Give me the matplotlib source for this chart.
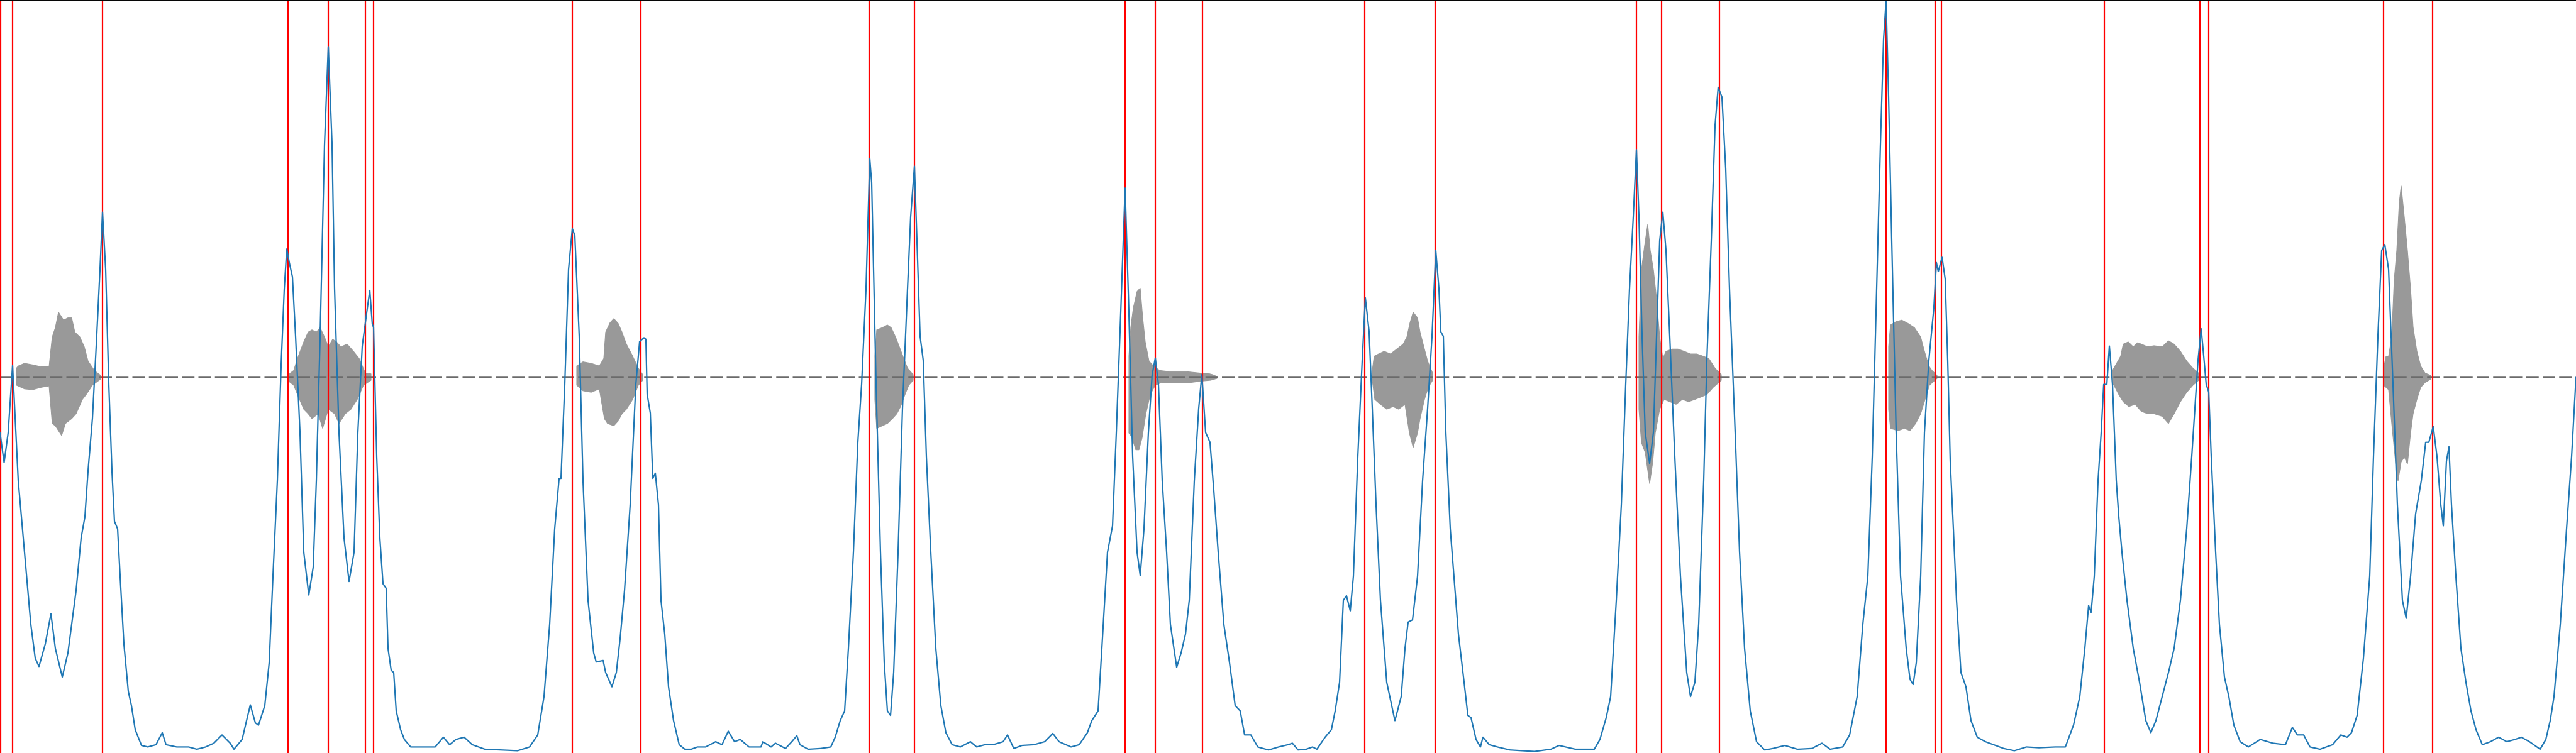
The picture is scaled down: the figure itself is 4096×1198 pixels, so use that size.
"""
Onset detection plot: waveform (gray), onset strength envelope (blue),
detected onsets (red vertical lines).
"""

import numpy as np
import matplotlib
matplotlib.use("Agg")
import matplotlib.pyplot as plt

# ── detected onset positions (frames) ──────────────────────────────────────
ONSET_FRAMES = [1, 20, 163, 458, 522, 581, 594, 910, 1019, 1382, 1454,
                1789, 1837, 1912, 2170, 2282, 2602, 2642, 2734, 2999,
                3077, 3087, 3346, 3498, 3512, 3790, 3868]

# ── onset strength envelope (frame, normalised strength) ───────────────────
ONSET_ENV = [
    (0, 0.426), (6.5, 0.386), (13, 0.426), (20, 0.515), (29, 0.362),
    (39, 0.267), (49, 0.171), (56, 0.126), (62, 0.115), (72, 0.145),
    (81, 0.185), (88, 0.139), (99, 0.101), (108, 0.133), (121, 0.216),
    (129, 0.286), (135, 0.314), (140, 0.375), (147, 0.445), (153, 0.541),
    (159, 0.643), (163, 0.719), (168, 0.643), (173, 0.490), (178, 0.375),
    (182, 0.308), (187, 0.298), (191, 0.235), (197, 0.145), (204, 0.082),
    (209, 0.063), (215, 0.031), (225, 0.010), (235, 0.008), (248, 0.011),
    (258, 0.027), (264, 0.011), (281, 0.008), (300, 0.008), (313, 0.005),
    (327, 0.008), (340, 0.013), (353, 0.024), (366, 0.013), (372, 0.005),
    (385, 0.018), (392, 0.043), (398, 0.064), (406, 0.040), (411, 0.037),
    (421, 0.063), (428, 0.120), (434, 0.235), (441, 0.362), (447, 0.515),
    (452, 0.617), (456, 0.670), (460, 0.652), (465, 0.633), (470, 0.554),
    (477, 0.426), (483, 0.267), (491, 0.210), (498, 0.247), (503, 0.362),
    (509, 0.554), (516, 0.809), (522, 0.939), (528, 0.809), (532, 0.617),
    (539, 0.426), (547, 0.286), (555, 0.228), (563, 0.267), (569, 0.426),
    (576, 0.541), (583, 0.585), (588, 0.615), (592, 0.570), (594, 0.566),
    (599, 0.394), (604, 0.286), (609, 0.225), (614, 0.219), (617, 0.139),
    (622, 0.110), (626, 0.107), (630, 0.056), (637, 0.031), (643, 0.018),
    (653, 0.008), (673, 0.008), (692, 0.008), (705, 0.021), (715, 0.011),
    (725, 0.018), (738, 0.021), (751, 0.011), (771, 0.005), (797, 0.004),
    (823, 0.003), (842, 0.008), (855, 0.024), (865, 0.075), (874, 0.171),
    (882, 0.298), (889, 0.365), (892, 0.365), (898, 0.490), (904, 0.643),
    (910, 0.697), (914, 0.688), (921, 0.554), (927, 0.362), (935, 0.203),
    (944, 0.133), (948, 0.121), (959, 0.123), (963, 0.107), (973, 0.088),
    (980, 0.107), (986, 0.152), (993, 0.216), (1002, 0.330), (1011, 0.490),
    (1017, 0.547), (1024, 0.552), (1027, 0.550), (1029, 0.477), (1034, 0.452),
    (1038, 0.365), (1042, 0.372), (1047, 0.330), (1051, 0.203), (1057, 0.158),
    (1063, 0.088), (1071, 0.043), (1080, 0.011), (1089, 0.005), (1099, 0.005),
    (1109, 0.008), (1122, 0.008), (1138, 0.015), (1148, 0.011), (1158, 0.029),
    (1168, 0.015), (1177, 0.018), (1191, 0.008), (1210, 0.008), (1213, 0.015),
    (1226, 0.008), (1233, 0.013), (1249, 0.006), (1259, 0.015), (1267, 0.023),
    (1272, 0.011), (1285, 0.005), (1305, 0.006), (1321, 0.008), (1328, 0.021),
    (1336, 0.043), (1343, 0.056), (1349, 0.139), (1357, 0.267), (1364, 0.413),
    (1370, 0.490), (1377, 0.617), (1383, 0.790), (1386, 0.758), (1393, 0.490),
    (1400, 0.267), (1406, 0.120), (1411, 0.056), (1416, 0.050), (1421, 0.107),
    (1428, 0.267), (1435, 0.458), (1443, 0.617), (1448, 0.713), (1454, 0.780),
    (1458, 0.681), (1463, 0.554), (1468, 0.522), (1473, 0.394), (1480, 0.267),
    (1488, 0.139), (1496, 0.063), (1504, 0.027), (1514, 0.011), (1527, 0.008),
    (1543, 0.015), (1553, 0.008), (1566, 0.011), (1579, 0.011), (1595, 0.015),
    (1602, 0.024), (1612, 0.006), (1625, 0.010), (1644, 0.011), (1661, 0.015),
    (1674, 0.026), (1684, 0.015), (1703, 0.008), (1716, 0.011), (1729, 0.027),
    (1736, 0.043), (1746, 0.056), (1752, 0.139), (1761, 0.267), (1769, 0.302),
    (1775, 0.426), (1782, 0.585), (1789, 0.751), (1795, 0.585), (1801, 0.394),
    (1808, 0.267), (1813, 0.236), (1819, 0.298), (1826, 0.426), (1832, 0.503),
    (1837, 0.525), (1842, 0.490), (1848, 0.362), (1855, 0.267), (1861, 0.171),
    (1871, 0.114), (1878, 0.133), (1885, 0.158), (1891, 0.203), (1899, 0.362),
    (1906, 0.458), (1911, 0.503), (1917, 0.426), (1924, 0.413), (1930, 0.349),
    (1937, 0.267), (1946, 0.171), (1955, 0.120), (1964, 0.063), (1972, 0.056),
    (1979, 0.024), (1989, 0.024), (2000, 0.008), (2017, 0.004), (2033, 0.008),
    (2048, 0.011), (2055, 0.013), (2064, 0.004), (2077, 0.005), (2087, 0.008),
    (2094, 0.005), (2107, 0.021), (2117, 0.031), (2123, 0.056), (2130, 0.094),
    (2136, 0.203), (2141, 0.209), (2147, 0.189), (2152, 0.235), (2159, 0.394),
    (2166, 0.522), (2171, 0.605), (2177, 0.560), (2182, 0.458), (2188, 0.330),
    (2195, 0.203), (2205, 0.094), (2218, 0.043), (2228, 0.075), (2234, 0.139),
    (2239, 0.174), (2246, 0.177), (2254, 0.235), (2262, 0.362), (2270, 0.458),
    (2277, 0.554), (2283, 0.668), (2288, 0.617), (2291, 0.560), (2295, 0.554),
    (2299, 0.426), (2306, 0.298), (2313, 0.222), (2319, 0.158), (2328, 0.094),
    (2334, 0.050), (2339, 0.047), (2347, 0.018), (2354, 0.008), (2358, 0.021),
    (2368, 0.011), (2381, 0.008), (2401, 0.004), (2440, 0.002), (2466, 0.005),
    (2479, 0.010), (2505, 0.005), (2535, 0.005), (2544, 0.018), (2554, 0.047),
    (2561, 0.075), (2570, 0.203), (2578, 0.330), (2585, 0.490), (2591, 0.617),
    (2597, 0.713), (2602, 0.802), (2606, 0.713), (2611, 0.554), (2616, 0.426),
    (2623, 0.385), (2629, 0.426), (2634, 0.554), (2639, 0.681), (2644, 0.719),
    (2649, 0.668), (2655, 0.554), (2663, 0.394), (2672, 0.235), (2682, 0.107),
    (2688, 0.075), (2695, 0.094), (2701, 0.171), (2709, 0.362), (2714, 0.522),
    (2721, 0.681), (2727, 0.834), (2732, 0.885), (2738, 0.872), (2744, 0.777),
    (2750, 0.617), (2759, 0.426), (2766, 0.267), (2774, 0.139), (2783, 0.056),
    (2793, 0.015), (2806, 0.004), (2819, 0.006), (2838, 0.010), (2858, 0.005),
    (2881, 0.006), (2897, 0.013), (2910, 0.005), (2930, 0.008), (2941, 0.024),
    (2953, 0.075), (2962, 0.171), (2970, 0.235), (2977, 0.394), (2983, 0.585),
    (2990, 0.809), (2995, 0.949), (2999, 1.000), (3003, 0.872), (3008, 0.681),
    (3015, 0.426), (3022, 0.235), (3031, 0.139), (3037, 0.098), (3042, 0.091),
    (3047, 0.120), (3054, 0.235), (3060, 0.426), (3067, 0.522), (3072, 0.566),
    (3075, 0.592), (3079, 0.652), (3082, 0.640), (3088, 0.659), (3093, 0.630),
    (3097, 0.522), (3101, 0.388), (3106, 0.298), (3111, 0.203), (3118, 0.107),
    (3126, 0.088), (3134, 0.043), (3144, 0.021), (3157, 0.015), (3170, 0.011),
    (3186, 0.006), (3203, 0.003), (3222, 0.008), (3242, 0.007), (3268, 0.008),
    (3284, 0.008), (3297, 0.037), (3307, 0.075), (3315, 0.139), (3321, 0.196),
    (3325, 0.187), (3330, 0.235), (3336, 0.362), (3341, 0.426), (3345, 0.490),
    (3350, 0.490), (3354, 0.541), (3359, 0.490), (3365, 0.362), (3369, 0.314),
    (3374, 0.267), (3382, 0.203), (3392, 0.139), (3402, 0.094), (3412, 0.043),
    (3420, 0.027), (3428, 0.043), (3438, 0.075), (3448, 0.107), (3457, 0.139),
    (3467, 0.203), (3477, 0.298), (3485, 0.394), (3490, 0.458), (3495, 0.522),
    (3500, 0.564), (3504, 0.528), (3508, 0.490), (3512, 0.480), (3516, 0.394),
    (3523, 0.267), (3529, 0.171), (3537, 0.101), (3544, 0.075), (3552, 0.037),
    (3562, 0.015), (3575, 0.008), (3594, 0.018), (3614, 0.013), (3634, 0.011),
    (3645, 0.034), (3653, 0.024), (3663, 0.024), (3673, 0.008), (3689, 0.005),
    (3709, 0.011), (3722, 0.024), (3732, 0.021), (3739, 0.027), (3748, 0.050),
    (3758, 0.126), (3768, 0.235), (3774, 0.394), (3781, 0.554), (3787, 0.668),
    (3792, 0.676), (3798, 0.643), (3805, 0.490), (3812, 0.330), (3820, 0.203),
    (3826, 0.179), (3833, 0.235), (3841, 0.318), (3850, 0.362), (3857, 0.413),
    (3862, 0.413), (3869, 0.434), (3875, 0.394), (3881, 0.330), (3885, 0.302),
    (3890, 0.388), (3894, 0.407), (3898, 0.330), (3905, 0.235), (3913, 0.139),
    (3921, 0.094), (3929, 0.056), (3937, 0.031), (3947, 0.011), (3960, 0.015),
    (3973, 0.021), (3986, 0.015), (3999, 0.018), (4009, 0.021), (4022, 0.015),
    (4039, 0.005), (4048, 0.018), (4055, 0.043), (4061, 0.075), (4071, 0.171),
    (4081, 0.298), (4089, 0.394), (4096, 0.499),
]

# ── waveform envelopes per note (frame, amplitude) ─────────────────────────
NOTE1_TOP = [(26, 0.023), (29, 0.029), (39, 0.036), (52, 0.032), (65, 0.027),
             (78, 0.027), (83, 0.106), (88, 0.131), (93, 0.172), (101, 0.151),
             (108, 0.157), (114, 0.157), (119, 0.119), (127, 0.106),
             (134, 0.080), (140, 0.042), (150, 0.017), (160, 0.004)]
NOTE1_BOT = [(26, -0.022), (39, -0.032), (52, -0.034), (65, -0.028),
             (78, -0.024), (83, -0.124), (88, -0.130), (98, -0.156),
             (104, -0.124), (114, -0.111), (121, -0.098), (131, -0.060),
             (137, -0.047), (147, -0.022), (160, -0.006)]

NOTE2_TOP = [(457, 0.004), (467, 0.017), (473, 0.049), (483, 0.093),
             (490, 0.119), (496, 0.125), (503, 0.119), (509, 0.131),
             (516, 0.106), (522, 0.080), (529, 0.100), (535, 0.093),
             (542, 0.080), (552, 0.087), (562, 0.068), (571, 0.049),
             (581, 0.010), (590, 0.008)]
NOTE2_BOT = [(457, -0.009), (467, -0.022), (473, -0.047), (483, -0.086),
             (490, -0.098), (496, -0.111), (506, -0.098), (513, -0.137),
             (522, -0.086), (532, -0.098), (539, -0.124), (549, -0.098),
             (558, -0.086), (568, -0.060), (578, -0.022), (590, -0.009)]

NOTE3_TOP = [(917, 0.029), (927, 0.040), (940, 0.036), (953, 0.029),
             (960, 0.049), (963, 0.119), (970, 0.144), (976, 0.155),
             (983, 0.142), (989, 0.119), (996, 0.087), (1006, 0.055),
             (1015, 0.023), (1022, 0.006)]
NOTE3_BOT = [(917, -0.022), (927, -0.037), (940, -0.041), (953, -0.032),
             (961, -0.111), (966, -0.124), (976, -0.130), (983, -0.117),
             (989, -0.098), (996, -0.086), (1006, -0.060), (1015, -0.022),
             (1022, -0.009)]

NOTE4_TOP = [(1391, 0.055), (1394, 0.125), (1403, 0.131), (1411, 0.138),
             (1417, 0.131), (1424, 0.106), (1430, 0.080), (1437, 0.049),
             (1443, 0.023), (1452, 0.006)]
NOTE4_BOT = [(1391, -0.060), (1394, -0.137), (1403, -0.130), (1411, -0.124),
             (1419, -0.111), (1426, -0.098), (1432, -0.079), (1439, -0.047),
             (1445, -0.022), (1452, -0.009)]

NOTE5_TOP = [(1795, 0.055), (1798, 0.132), (1802, 0.183), (1808, 0.227),
             (1813, 0.236), (1817, 0.157), (1821, 0.093), (1827, 0.042),
             (1834, 0.029), (1844, 0.017), (1860, 0.014), (1886, 0.014),
             (1909, 0.010), (1919, 0.010), (1928, 0.006), (1935, 0.001)]
NOTE5_BOT = [(1795, -0.149), (1800, -0.162), (1806, -0.194), (1811, -0.194),
             (1816, -0.162), (1822, -0.098), (1829, -0.047), (1837, -0.022),
             (1847, -0.015), (1866, -0.015), (1893, -0.015), (1912, -0.011),
             (1925, -0.009), (1935, -0.004)]

NOTE6_TOP = [(2182, 0.017), (2185, 0.055), (2192, 0.061), (2201, 0.068),
             (2211, 0.061), (2221, 0.074), (2231, 0.087), (2237, 0.106),
             (2242, 0.144), (2247, 0.172), (2254, 0.157), (2258, 0.119),
             (2264, 0.080), (2270, 0.042), (2278, 0.010)]
NOTE6_BOT = [(2182, -0.009), (2186, -0.060), (2195, -0.073), (2205, -0.086),
             (2215, -0.079), (2224, -0.086), (2234, -0.073), (2241, -0.149),
             (2247, -0.188), (2254, -0.149), (2258, -0.111), (2265, -0.060),
             (2271, -0.028), (2278, -0.009)]

NOTE7_TOP = [(2606, 0.106), (2610, 0.285), (2615, 0.349), (2620, 0.406),
             (2624, 0.336), (2629, 0.285), (2634, 0.208), (2639, 0.106),
             (2644, 0.049), (2649, 0.068), (2659, 0.074), (2668, 0.074),
             (2678, 0.068), (2688, 0.061), (2698, 0.061), (2708, 0.055),
             (2717, 0.049), (2727, 0.023), (2737, 0.006)]
NOTE7_BOT = [(2606, -0.086), (2610, -0.175), (2616, -0.201), (2623, -0.284),
             (2628, -0.226), (2632, -0.149), (2639, -0.086), (2646, -0.060),
             (2655, -0.066), (2665, -0.073), (2675, -0.060), (2685, -0.066),
             (2695, -0.060), (2704, -0.054), (2714, -0.047), (2724, -0.028),
             (2737, -0.009)]

NOTE8_TOP = [(3003, 0.080), (3006, 0.138), (3015, 0.147), (3024, 0.151),
             (3034, 0.142), (3044, 0.131), (3054, 0.106), (3060, 0.068),
             (3067, 0.029), (3072, 0.017), (3080, 0.004)]
NOTE8_BOT = [(3003, -0.086), (3006, -0.137), (3018, -0.143), (3028, -0.137),
             (3037, -0.143), (3046, -0.124), (3054, -0.098), (3061, -0.060),
             (3068, -0.022), (3080, -0.004)]

NOTE9_TOP = [(3359, 0.017), (3372, 0.055), (3376, 0.087), (3384, 0.093),
             (3392, 0.080), (3399, 0.091), (3405, 0.087), (3415, 0.080),
             (3425, 0.083), (3438, 0.080), (3448, 0.096), (3457, 0.087),
             (3467, 0.068), (3477, 0.042), (3487, 0.023), (3496, 0.010)]
NOTE9_BOT = [(3359, -0.015), (3369, -0.047), (3376, -0.066), (3385, -0.079),
             (3395, -0.073), (3405, -0.092), (3415, -0.098), (3425, -0.098),
             (3438, -0.105), (3448, -0.124), (3457, -0.098), (3467, -0.066),
             (3477, -0.041), (3487, -0.022), (3496, -0.009)]

NOTE10_TOP = [(3790, 0.023), (3794, 0.055), (3798, 0.055), (3803, 0.106),
              (3807, 0.259), (3811, 0.336), (3815, 0.464), (3818, 0.508),
              (3823, 0.425), (3828, 0.336), (3833, 0.234), (3837, 0.132),
              (3843, 0.068), (3849, 0.029), (3856, 0.010), (3865, 0.004)]
NOTE10_BOT = [(3790, -0.022), (3798, -0.034), (3803, -0.124), (3809, -0.226),
              (3813, -0.277), (3818, -0.226), (3823, -0.213), (3828, -0.232),
              (3833, -0.149), (3837, -0.098), (3843, -0.060), (3849, -0.028),
              (3856, -0.015), (3865, -0.006)]

NOTES = [(NOTE1_TOP, NOTE1_BOT), (NOTE2_TOP, NOTE2_BOT), (NOTE3_TOP, NOTE3_BOT),
         (NOTE4_TOP, NOTE4_BOT), (NOTE5_TOP, NOTE5_BOT), (NOTE6_TOP, NOTE6_BOT),
         (NOTE7_TOP, NOTE7_BOT), (NOTE8_TOP, NOTE8_BOT), (NOTE9_TOP, NOTE9_BOT),
         (NOTE10_TOP, NOTE10_BOT)]

N_FRAMES = 4096


def run():
    fig = plt.figure(figsize=(40.96, 11.98), dpi=100)
    ax = fig.add_axes([0.0, 0.0, 1.0, 1.0 - 1.2 / 1198])
    ax2 = ax.twinx()

    # waveform
    for top, bot in NOTES:
        top = np.array(top)
        bot = np.array(bot)
        xs = np.concatenate([top[:, 0], bot[::-1, 0]])
        ys = np.concatenate([top[:, 1], bot[::-1, 1]])
        ax.fill(xs, ys, color="#999999", lw=0.8, zorder=1)
    ax.axhline(0, color="#6b6b6b", lw=1.8, dashes=(8, 2.5), zorder=1.5)

    # detected onsets + envelope
    for f in ONSET_FRAMES:
        ax2.axvline(f, color="#ff0000", lw=1.6, zorder=2)
    env = np.array(ONSET_ENV)
    ax2.plot(env[:, 0], env[:, 1], color="#1f77b4", lw=1.6, zorder=3)

    ax.set_xlim(0, N_FRAMES)
    ax.set_ylim(-1, 1)
    ax2.set_ylim(0, 1)

    for a in (ax, ax2):
        a.set_xticks([])
        a.set_yticks([])
        for side in ("left", "right", "bottom"):
            a.spines[side].set_visible(False)
    ax.spines["top"].set_linewidth(1.4)
    ax2.spines["top"].set_visible(False)

    fig.savefig("out.png", dpi=100)


if __name__ == "__main__":
    run()
